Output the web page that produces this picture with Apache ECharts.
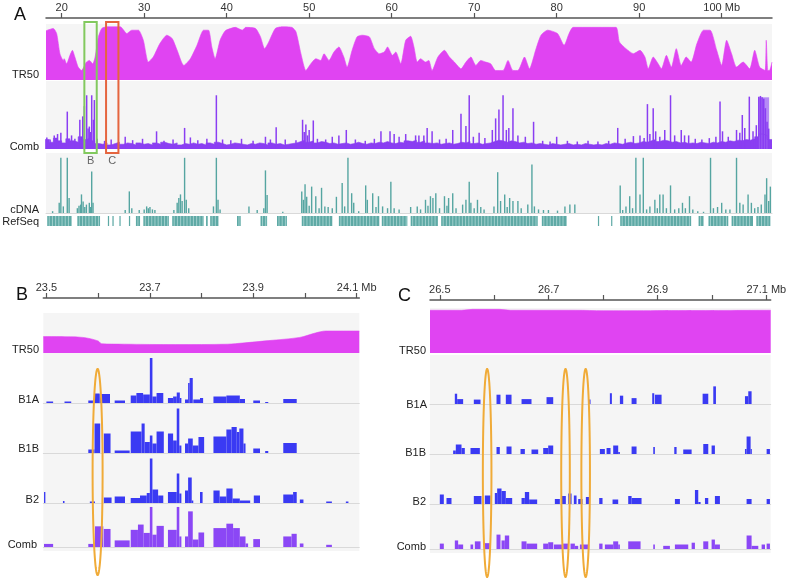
<!DOCTYPE html>
<html><head><meta charset="utf-8">
<script src="https://cdn.jsdelivr.net/npm/echarts@6/dist/echarts.min.js"></script>
<style>html,body{margin:0;padding:0;background:#fff}#c{width:788px;height:579px}</style>
</head><body><div id="c"></div>
<script>
// ---------------- DATA ----------------
// Panel A (whole region, Mb)
const ticksA = [20,30,40,50,60,70,80,90,100];
const labelsA = [20,30,40,50,60,70,80,90,100];
const unit = 'Mb';
const tr50A = [[18.1,88],[18.98,92],[19.39,83],[19.79,47],[20.2,35],[20.3,38],[20.6,29],[21.0,44],[21.3,53],[21.6,41],[22.0,23],[22.4,17],[23.0,32],[23.35,35],[23.77,29],[24.05,41],[24.45,77],[24.86,92],[25.47,95],[27.1,95],[27.9,83],[28.5,89],[29.3,89],[29.9,71],[30.5,32],[31.1,41],[31.9,65],[32.75,80],[33.4,74],[34.0,53],[34.8,26],[35.6,38],[36.4,62],[37.2,89],[37.8,89],[38.2,59],[38.6,38],[39.2,71],[39.84,88],[41.05,94],[41.9,89],[42.3,94],[43.5,92],[44.1,77],[44.6,56],[45.1,68],[45.9,92],[46.7,95],[47.9,94],[48.4,86],[49.0,47],[49.6,17],[50.2,29],[50.8,38],[51.4,35],[51.8,47],[52.4,35],[53.0,50],[53.6,59],[54.2,41],[54.6,23],[55.2,53],[55.8,77],[56.4,80],[57.3,77],[57.9,56],[58.5,47],[59.1,50],[59.5,59],[60.1,44],[60.5,50],[61.1,29],[61.7,71],[62.3,78],[62.7,59],[63.1,32],[63.5,38],[64.1,32],[64.5,35],[64.9,17],[65.6,41],[66.4,53],[67.0,41],[67.6,32],[68.4,20],[69.0,32],[69.6,41],[70.2,26],[70.8,35],[71.4,32],[72.0,29],[72.6,17],[73.5,17],[74.1,35],[74.7,17],[75.3,17],[76.1,41],[76.7,20],[77.5,56],[78.1,80],[78.9,89],[80.1,83],[80.9,62],[81.5,83],[82.0,94],[85.4,94],[87.2,94],[87.6,68],[88.4,56],[89.3,47],[90.1,53],[90.7,41],[91.1,20],[91.7,41],[92.3,29],[92.7,20],[93.3,44],[93.9,23],[94.5,56],[95.1,26],[95.7,41],[96.3,32],[97.0,65],[97.8,89],[98.6,89],[99.4,53],[100.0,26],[100.6,71],[101.2,47],[101.8,23],[102.6,32],[103.4,20],[104.0,53],[104.6,23],[105.25,17],[105.4,71],[105.6,17],[105.8,17],[106.1,32]];
const combNoiseStart = 18.0, combNoiseStep = 0.5;
const combNoiseA = [14,10,16,12,9,15,12,10,18,14,16,12, 8,7,9,6,8,10,7,9,8,6,9,7, 8,6,9,7,10,8,7,9,6,8,7,9, 7,8,6,9,7,10,8,6,7,9,8,7, 6,8,7,9,8,6,9,7,8,6,7,8, 9,11,13,10,12,9,11,10,8,9,7,8, 9,7,8,10,8,7,9,8,10,9,11,9, 8,10,9,12,11,13,10,12,9,8,9,7, 8,9,7,8,10,9,11,8,9,7,8,9, 11,13,12,10,12,11,9,10,8,9,7,8, 7,6,8,7,6,7,8,6,7,6,8,7, 6,7,6,8,7,9,8,7,9,10,8,9, 11,10,12,14,11,13,12,10,11,9,10,8, 9,8,10,9,8,10,9,11,10,12,11,13, 12,14,13,15,18,22,20,14];
const combSpikesA = [[18.2,17],[18.6,14],[19.1,20],[19.5,22],[19.9,24],[20.68,55],[21.2,20],[21.6,15],[22.2,43],[22.55,48],[22.75,63],[23.03,79],[23.2,30],[23.35,33],[23.5,25],[23.64,79],[23.84,43],[23.96,72],[24.3,15],[25.2,12],[26.0,14],[27.7,18],[28.6,13],[29.8,15],[31.5,26],[32.4,12],[33.5,14],[34.9,31],[35.6,17],[36.5,13],[37.6,15],[38.75,79],[39.5,14],[40.5,13],[41.8,15],[43.2,12],[44.7,18],[45.3,14],[46.0,32],[47.1,14],[48.4,13],[49.2,43],[49.4,25],[49.6,36],[49.8,20],[50.0,28],[50.5,42],[51.0,15],[52.0,14],[52.8,18],[53.6,20],[54.5,28],[55.6,14],[56.8,12],[57.9,15],[58.7,26],[59.8,26],[60.3,22],[60.9,18],[61.7,22],[62.9,20],[63.3,20],[63.9,20],[64.3,31],[64.9,26],[65.8,14],[66.6,15],[67.4,28],[68.4,52],[69.0,34],[69.4,79],[69.9,18],[70.6,24],[71.3,16],[72.2,28],[72.6,45],[73.0,58],[73.5,79],[73.9,28],[74.2,31],[74.7,60],[75.3,20],[76.2,18],[77.2,40],[78.3,12],[79.2,11],[80.0,18],[81.3,12],[82.5,11],[83.8,12],[85.0,11],[86.3,12],[87.4,31],[88.3,15],[89.3,19],[90.1,20],[90.6,16],[91.0,66],[91.3,22],[91.7,60],[92.0,26],[92.5,18],[93.1,28],[93.8,79],[94.3,20],[95.1,28],[95.5,20],[96.0,20],[96.8,15],[97.6,14],[98.5,16],[99.3,18],[99.8,70],[100.1,26],[100.8,18],[101.8,28],[102.2,24],[102.5,50],[102.8,31],[103.35,77],[103.8,26],[104.2,35],[104.5,77],[104.7,78],[104.9,76],[105.1,74],[105.3,60],[105.5,40],[105.7,30]];
const combBlockA = [[104.45,105.75,76]];
const cdnaA = [[18.9,3],[19.7,17],[19.9,92],[20.2,11],[20.68,92],[20.9,25],[21.9,8],[22.1,12],[22.3,14],[22.4,31],[22.6,19],[22.8,10],[23.0,14],[23.35,17],[23.5,10],[23.64,69],[23.8,17],[27.7,5],[28.2,36],[28.5,8],[29.4,5],[30.0,6],[30.3,11],[30.5,8],[30.7,10],[31.0,6],[31.3,5],[33.6,5],[34.0,17],[34.2,25],[34.4,31],[34.6,20],[34.9,92],[35.1,22],[35.4,8],[38.4,11],[38.75,92],[38.95,22],[39.2,6],[42.7,11],[43.7,5],[44.5,8],[44.7,71],[44.9,30],[46.8,2],[49.1,36],[49.3,22],[49.5,48],[49.7,27],[50.0,12],[50.3,44],[50.8,28],[51.2,8],[51.5,42],[51.9,11],[52.3,10],[52.8,8],[53.3,27],[54.0,50],[54.3,11],[54.7,92],[55.15,33],[55.4,17],[56.0,3],[56.85,46],[57.05,22],[57.7,33],[58.1,10],[58.4,28],[58.9,11],[59.5,8],[59.9,52],[60.3,8],[60.9,6],[62.3,10],[63.1,11],[63.5,6],[64.1,22],[64.4,12],[64.7,28],[65.0,25],[65.35,33],[65.8,8],[66.4,28],[66.7,12],[66.9,25],[67.4,33],[67.8,8],[68.6,14],[69.0,22],[69.4,52],[69.6,17],[70.0,8],[70.4,22],[70.8,10],[71.2,6],[72.4,11],[72.85,68],[73.2,20],[73.7,31],[74.0,10],[74.3,25],[74.7,20],[75.3,20],[75.7,8],[76.5,14],[77.0,81],[77.3,11],[77.8,6],[78.4,5],[79.0,5],[80.1,4],[81.0,11],[81.6,14],[82.2,14],[87.7,46],[88.0,5],[88.4,11],[88.85,28],[89.2,8],[89.6,92],[90.1,31],[90.5,92],[90.9,6],[91.3,11],[91.9,22],[92.2,8],[92.5,31],[92.9,31],[93.3,8],[93.8,46],[94.3,6],[94.8,8],[95.25,17],[95.6,8],[96.1,28],[96.5,6],[97.1,3],[97.8,2],[98.65,92],[99.0,8],[99.5,10],[100.0,17],[100.5,6],[101.0,6],[101.8,92],[102.2,17],[102.6,14],[103.2,31],[103.6,17],[104.0,8],[104.4,10],[104.8,14],[105.25,31],[105.45,58],[105.7,20],[105.9,44]];
const refseqA = [[18.25,21.2],[21.9,24.65],[25.6,25.75],[26.15,26.3],[27.0,27.1],[28.15,28.3],[29.0,29.5],[29.9,33.0],[33.4,37.2],[37.5,37.7],[38.0,39.0],[41.25,41.7],[44.1,44.9],[46.1,47.3],[49.1,52.8],[53.6,58.5],[58.8,61.9],[62.3,65.6],[66.0,77.7],[78.2,81.2],[85.0,85.1],[86.6,86.7],[87.7,96.3],[97.2,97.8],[98.4,100.8],[101.2,103.8],[104.2,105.9]];
const boxB = [[22.75,24.25]];
const boxC = [[25.38,26.88]];

// Panel B (23.5 - 24.1 Mb)
const ticksB = [23.5,23.6,23.7,23.8,23.9,24.0,24.1];
const labelsB = [23.5,23.7,23.9,24.1];
const tr50B = [[23.494,41],[23.56,40],[23.58,37],[23.60,30],[23.607,23],[23.65,22],[23.75,21],[23.85,22],[23.88,25],[23.93,31],[23.99,39],[24.02,50],[24.04,55],[24.105,55]];
const b1aB = [[23.500,23.513,3],[23.535,23.548,3],[23.581,23.590,5],[23.592,23.603,19],[23.603,23.623,18],[23.632,23.652,5],[23.663,23.674,15],[23.674,23.687,20],[23.687,23.700,17],[23.700,23.705,90],[23.705,23.713,13],[23.713,23.726,20],[23.735,23.745,10],[23.745,23.752,13],[23.752,23.758,21],[23.758,23.761,10],[23.768,23.774,7],[23.774,23.777,40],[23.777,23.783,50],[23.784,23.797,7],[23.797,23.803,10],[23.823,23.848,13],[23.848,23.874,15],[23.874,23.884,8],[23.900,23.913,5],[23.923,23.929,2],[23.958,23.984,8]];
const b1bB = [[23.581,23.593,7],[23.593,23.604,59],[23.611,23.624,39],[23.632,23.661,5],[23.663,23.684,43],[23.684,23.690,59],[23.690,23.700,22],[23.700,23.705,35],[23.705,23.713,19],[23.713,23.727,43],[23.735,23.745,39],[23.745,23.752,25],[23.752,23.757,89],[23.757,23.761,15],[23.768,23.774,19],[23.774,23.783,29],[23.783,23.794,15],[23.794,23.805,32],[23.823,23.848,33],[23.848,23.858,47],[23.858,23.868,52],[23.868,23.873,42],[23.873,23.881,49],[23.881,23.885,19],[23.900,23.913,9],[23.923,23.929,4],[23.958,23.984,20]];
const b2B = [[23.4954,23.498,22],[23.532,23.535,4],[23.584,23.594,3],[23.611,23.626,11],[23.632,23.652,13],[23.663,23.681,10],[23.681,23.694,15],[23.694,23.700,20],[23.700,23.705,89],[23.705,23.716,27],[23.716,23.726,15],[23.735,23.752,22],[23.752,23.757,59],[23.757,23.761,19],[23.768,23.774,25],[23.774,23.781,51],[23.781,23.784,5],[23.797,23.802,22],[23.823,23.835,25],[23.835,23.848,13],[23.848,23.860,29],[23.860,23.874,9],[23.874,23.894,5],[23.901,23.913,15],[23.958,23.977,17],[23.977,23.984,22],[23.990,23.997,7],[24.041,24.052,3],[24.079,24.084,3]];
const combB = [[23.4954,23.513,7],[23.581,23.594,7],[23.594,23.610,47],[23.611,23.624,41],[23.632,23.661,15],[23.663,23.677,39],[23.677,23.688,51],[23.688,23.700,32],[23.700,23.705,91],[23.705,23.713,28],[23.713,23.727,48],[23.735,23.752,39],[23.752,23.757,91],[23.757,23.761,24],[23.768,23.774,24],[23.774,23.783,81],[23.783,23.794,17],[23.794,23.805,33],[23.823,23.848,43],[23.848,23.861,53],[23.861,23.874,43],[23.874,23.885,24],[23.885,23.890,8],[23.900,23.913,18],[23.958,23.974,24],[23.974,23.984,30],[23.990,23.997,8],[24.041,24.052,5]];
const ellipsesB = [23.599];

// Panel C (26.5 - 27.1 Mb)
const ticksC = [26.5,26.6,26.7,26.8,26.9,27.0,27.1];
const labelsC = [26.5,26.7,26.9,27.1];
const tr50C = [[26.482,95],[26.54,95],[26.56,97],[26.61,97],[26.63,95],[26.75,95],[26.8,94],[27.108,95]];
const b1aC = [[26.5276,26.5319,21],[26.5319,26.5429,10],[26.5625,26.5748,9],[26.6042,26.6115,19],[26.6213,26.6318,19],[26.6502,26.6685,10],[26.6961,26.7084,14],[26.7745,26.7770,9],[26.8125,26.8162,22],[26.8309,26.8370,17],[26.8524,26.8615,12],[26.8903,26.8940,22],[26.8952,26.9075,19],[26.9829,26.9933,21],[27.0025,27.0074,36],[27.0607,27.0668,16],[27.0668,27.0729,26]];
const b1bC = [[26.5245,26.5294,7],[26.5294,26.5399,19],[26.5399,26.5460,12],[26.5564,26.5736,12],[26.6042,26.6103,14],[26.6226,26.6318,15],[26.6483,26.6563,10],[26.6685,26.6808,9],[26.6900,26.6992,12],[26.6992,26.7084,17],[26.7941,26.8033,10],[26.8064,26.8137,12],[26.8186,26.8278,17],[26.8278,26.8309,4],[26.8524,26.8615,15],[26.8922,26.8952,14],[26.9308,26.9351,14],[26.9473,26.9627,9],[26.9841,26.9933,20],[26.9994,27.0055,17],[27.0607,27.0637,10],[27.0637,27.0711,35],[27.0711,27.0729,10],[27.1005,27.1066,10]];
const b2C = [[26.5000,26.5074,19],[26.5123,26.5215,12],[26.5625,26.5766,16],[26.5827,26.5932,17],[26.6011,26.6054,22],[26.6054,26.6134,31],[26.6134,26.6213,26],[26.6213,26.6330,12],[26.6502,26.6563,12],[26.6563,26.6642,24],[26.6642,26.6789,9],[26.7114,26.7206,10],[26.7237,26.7316,16],[26.7359,26.7421,21],[26.7463,26.7513,17],[26.7543,26.7623,10],[26.7684,26.7758,14],[26.7929,26.7990,12],[26.8174,26.8278,9],[26.8462,26.8524,16],[26.8524,26.8707,12],[26.9320,26.9412,10],[26.9688,26.9749,28],[26.9749,26.9792,4],[26.9872,26.9933,12],[27.0055,27.0147,16],[27.0637,27.0729,10],[27.1005,27.1066,10]];
const combC = [[26.5000,26.5074,12],[26.5276,26.5337,19],[26.5337,26.5429,10],[26.5564,26.5613,10],[26.5644,26.5748,17],[26.5827,26.5919,13],[26.6042,26.6115,32],[26.6134,26.6195,19],[26.6195,26.6275,30],[26.6502,26.6593,17],[26.6593,26.6789,12],[26.6900,26.6992,12],[26.6992,26.7084,15],[26.7096,26.7267,10],[26.7267,26.7359,12],[26.7402,26.7482,12],[26.7482,26.7543,7],[26.7574,26.7745,10],[26.7929,26.7990,12],[26.8033,26.8186,10],[26.8186,26.8278,17],[26.8278,26.8309,10],[26.8462,26.8689,17],[26.8922,26.8952,10],[26.9105,26.9228,7],[26.9320,26.9565,10],[26.9627,26.9688,14],[26.9841,26.9933,17],[26.9994,27.0055,21],[27.0055,27.0147,10],[27.0637,27.0729,30],[27.0729,27.0852,7],[27.0913,27.0975,10],[27.1005,27.1066,12]];
const ellipsesC = [26.587,26.731,26.768];

// ---------------- STYLE ----------------
const FONT = "'Liberation Sans', Arial, Helvetica, sans-serif";
const MAGENTA = '#e044f2', PURPLE = '#8a3ef2', PURPLE2 = '#8b47f5', BLUE = '#3a3af3', TEAL = '#55a5a1', BG = '#f5f5f5', SEP = '#d9d9d9', AX = '#555';

const grids = [], xAxes = [], yAxes = [], series = [];
function addGrid(left, top, width, height, xmin, xmax, ymax, bg, base) {
  const gi = grids.length;
  grids.push({left, top, width, height, show: !!bg, backgroundColor: bg || 'transparent', borderWidth: 0, containLabel: false, outerBoundsMode: 'none'});
  const xi = xAxes.length;
  xAxes.push({type: 'value', gridIndex: gi, min: xmin, max: xmax, position: 'bottom',
    axisLine: {show: !!base, onZero: false, lineStyle: {color: base || '#000', width: 1}},
    axisTick: {show: false}, axisLabel: {show: false}, splitLine: {show: false}});
  const yi = yAxes.length;
  yAxes.push({type: 'value', gridIndex: gi, min: 0, max: ymax, show: false, splitLine: {show: false}});
  return {gi, xi, yi};
}
function addTopAxis(g, xmin, xmax, offset, tickVals, labelVals) {
  const last = labelVals[labelVals.length - 1];
  xAxes.push({type: 'value', gridIndex: g.gi, min: xmin, max: xmax, position: 'top', offset,
    axisLine: {show: true, onZero: false, lineStyle: {color: AX, width: 1.5}},
    axisTick: {show: true, inside: false, length: 5, customValues: tickVals, lineStyle: {color: AX, width: 1.2}},
    axisLabel: {show: true, customValues: labelVals, margin: 5, fontSize: 11, fontFamily: FONT, color: '#333',
      formatter: v => (v === last ? v + ' ' + unit : String(v))},
    splitLine: {show: false}});
}
function area(g, data, color, smooth) {
  series.push({type: 'line', xAxisIndex: g.xi, yAxisIndex: g.yi, data, symbol: 'none', smooth: smooth || 0,
    lineStyle: {width: 0.6, color}, areaStyle: {color, opacity: 1}, silent: true, z: 2});
}
function stepArea(g, data, color) {
  series.push({type: 'line', xAxisIndex: g.xi, yAxisIndex: g.yi, data, step: 'end', symbol: 'none',
    lineStyle: {width: 0.6, color}, areaStyle: {color, opacity: 1}, silent: true, z: 2});
}
function rangeBars(g, data, color, z) {
  series.push({type: 'custom', xAxisIndex: g.xi, yAxisIndex: g.yi, data, encode: {x: [0, 1], y: 2}, silent: true, z: z || 3,
    renderItem: (p, api) => {
      const a = api.coord([api.value(0), 0]), b = api.coord([api.value(1), api.value(2)]);
      return {type: 'rect', shape: {x: a[0], y: b[1], width: Math.max(b[0] - a[0], 1.2), height: a[1] - b[1]}, style: {fill: color}};
    }});
}
function spikes(g, data, color, w) {
  series.push({type: 'custom', xAxisIndex: g.xi, yAxisIndex: g.yi, data, encode: {x: 0, y: 1}, silent: true, z: 4,
    renderItem: (p, api) => {
      const a = api.coord([api.value(0), 0]), b = api.coord([api.value(0), api.value(1)]);
      return {type: 'rect', shape: {x: a[0] - w / 2, y: b[1], width: w, height: a[1] - b[1]}, style: {fill: color}};
    }});
}
function stripes(g, data) {
  series.push({type: 'custom', xAxisIndex: g.xi, yAxisIndex: g.yi, data, encode: {x: [0, 1]}, silent: true, z: 3,
    renderItem: (p, api) => {
      const a = api.coord([api.value(0), 0]), b = api.coord([api.value(1), 1]);
      const w = Math.max(b[0] - a[0], 1.2), h = a[1] - b[1];
      const ch = [{type: 'rect', shape: {x: a[0], y: b[1], width: w, height: h}, style: {fill: '#5ea9a5'}}];
      for (let x = a[0] + 1.5; x < a[0] + w - 1; x += 3.2) {
        ch.push({type: 'rect', shape: {x: x, y: b[1], width: 1, height: h}, style: {fill: '#9fcfcc'}});
      }
      return {type: 'group', children: ch};
    }});
}
function boxes(g, data, color, name) {
  series.push({type: 'custom', xAxisIndex: g.xi, yAxisIndex: g.yi, data, encode: {x: [0, 1]}, silent: true, z: 10, clip: false,
    renderItem: (p, api) => {
      const a = api.coord([api.value(0), 0]), b = api.coord([api.value(1), 1]);
      return {type: 'group', children: [
        {type: 'rect', shape: {x: a[0], y: b[1], width: b[0] - a[0], height: a[1] - b[1]}, style: {fill: 'none', stroke: color, lineWidth: 2}},
        {type: 'text', style: {text: name, x: (a[0] + b[0]) / 2, y: a[1] + 8, fill: '#666', fontSize: 11, fontFamily: FONT, align: 'center', verticalAlign: 'middle'}}
      ]};
    }});
}
function ellipses(g, data, rx, color) {
  series.push({type: 'custom', xAxisIndex: g.xi, yAxisIndex: g.yi, data: data.map(c => [c]), encode: {x: 0}, silent: true, z: 10, clip: false,
    renderItem: (p, api) => {
      const cs = p.coordSys, c = api.coord([api.value(0), 0]);
      const cy = cs.y + cs.height / 2, ry = cs.height / 2, pts = [];
      for (let k = 0; k < 90; k++) { const t = k / 90 * 2 * Math.PI; pts.push([c[0] + rx * Math.cos(t), cy + ry * Math.sin(t)]); }
      return {type: 'polygon', shape: {points: pts}, style: {fill: 'none', stroke: color, lineWidth: 2}};
    }});
}

// ---------------- PANEL A ----------------
const AX0 = 18.1, AX1 = 106.1, AL = 46, AW = 726;
const gTrA = addGrid(AL, 24, AW, 56, AX0, AX1, 100, BG);
addTopAxis(gTrA, AX0, AX1, 6, ticksA, labelsA);
area(gTrA, tr50A, MAGENTA, 0.2);
const gCoA = addGrid(AL, 81, AW, 68, AX0, AX1, 100, BG);
const noiseData = combNoiseA.map((v, i) => [combNoiseStart + i * combNoiseStep, v]);
noiseData.push([AX1, combNoiseA[combNoiseA.length - 1]]);
stepArea(gCoA, noiseData, PURPLE);
rangeBars(gCoA, combBlockA, '#b58af6', 2);
spikes(gCoA, combSpikesA, PURPLE, 1.5);
const gCdA = addGrid(AL, 153, AW, 60, AX0, AX1, 100, BG, SEP);
spikes(gCdA, cdnaA, TEAL, 1.4);
const gRsA = addGrid(AL, 216, AW, 10, AX0, AX1, 1, null);
stripes(gRsA, refseqA);
const gBoxA = addGrid(AL, 22, AW, 131, AX0, AX1, 1, null);
boxes(gBoxA, boxB, '#82c95e', 'B');
boxes(gBoxA, boxC, '#e5653f', 'C');

// ---------------- PANEL B ----------------
const BX0 = 23.494, BX1 = 24.105, BL = 43.3, BW = 316;
addGrid(BL, 547, BW, 4, BX0, BX1, 1, BG);
const gTrB = addGrid(BL, 313, BW, 40, BX0, BX1, 100, BG);
addTopAxis(gTrB, BX0, BX1, 15, ticksB, labelsB);
area(gTrB, tr50B, MAGENTA, 0.3);
const gB1aB = addGrid(BL, 353, BW, 50, BX0, BX1, 100, BG, SEP); rangeBars(gB1aB, b1aB, BLUE);
const gB1bB = addGrid(BL, 403, BW, 50, BX0, BX1, 100, BG, SEP); rangeBars(gB1bB, b1bB, BLUE);
const gB2B = addGrid(BL, 453, BW, 50, BX0, BX1, 100, BG, SEP); rangeBars(gB2B, b2B, BLUE);
const gCoB = addGrid(BL, 503, BW, 44, BX0, BX1, 100, BG, SEP); rangeBars(gCoB, combB, PURPLE2);
const gElB = addGrid(BL, 369, BW, 206, BX0, BX1, 1, null);
ellipses(gElB, ellipsesB, 5, '#f0ab38');

// ---------------- PANEL C ----------------
const CX0 = 26.482, CX1 = 27.108, CL = 430, CW = 340.7;
addGrid(CL, 549, CW, 4, CX0, CX1, 1, BG);
const gTrC = addGrid(CL, 308, CW, 45, CX0, CX1, 100, BG);
addTopAxis(gTrC, CX0, CX1, 8, ticksC, labelsC);
area(gTrC, tr50C, MAGENTA, 0.3);
const gB1aC = addGrid(CL, 355, CW, 49, CX0, CX1, 100, BG, SEP); rangeBars(gB1aC, b1aC, BLUE);
const gB1bC = addGrid(CL, 404, CW, 50, CX0, CX1, 100, BG, SEP); rangeBars(gB1bC, b1bC, BLUE);
const gB2C = addGrid(CL, 454, CW, 50, CX0, CX1, 100, BG, SEP); rangeBars(gB2C, b2C, BLUE);
const gCoC = addGrid(CL, 504, CW, 45, CX0, CX1, 100, BG, SEP); rangeBars(gCoC, combC, PURPLE2);
const gElC = addGrid(CL, 369, CW, 208, CX0, CX1, 1, null);
ellipses(gElC, ellipsesC, 4.3, '#f0ab38');

// ---------------- TEXT ----------------
function label(text, x, y, size, color) {
  return {type: 'text', x, y, silent: true, z: 20, style: {text, fill: color || '#222', fontSize: size || 11, fontFamily: FONT, align: 'right', verticalAlign: 'middle'}};
}
const graphic = [
  label('A', 26, 15, 18, '#111'), label('B', 28, 295, 18, '#111'), label('C', 411, 296, 18, '#111'),
  label('TR50', 39, 75), label('Comb', 39, 147), label('cDNA', 39, 210), label('RefSeq', 39, 222),
  label('TR50', 39, 350), label('B1A', 39, 400), label('B1B', 39, 449), label('B2', 39, 500), label('Comb', 37, 545),
  label('TR50', 426, 351), label('B1A', 427, 405), label('B1B', 426, 453), label('B2', 426, 502), label('Comb', 426, 547)
];

const chart = echarts.init(document.getElementById('c'), null, {renderer: 'canvas'});
chart.setOption({animation: false, backgroundColor: '#fff', grid: grids, xAxis: xAxes, yAxis: yAxes, series, graphic});
</script></body></html>
